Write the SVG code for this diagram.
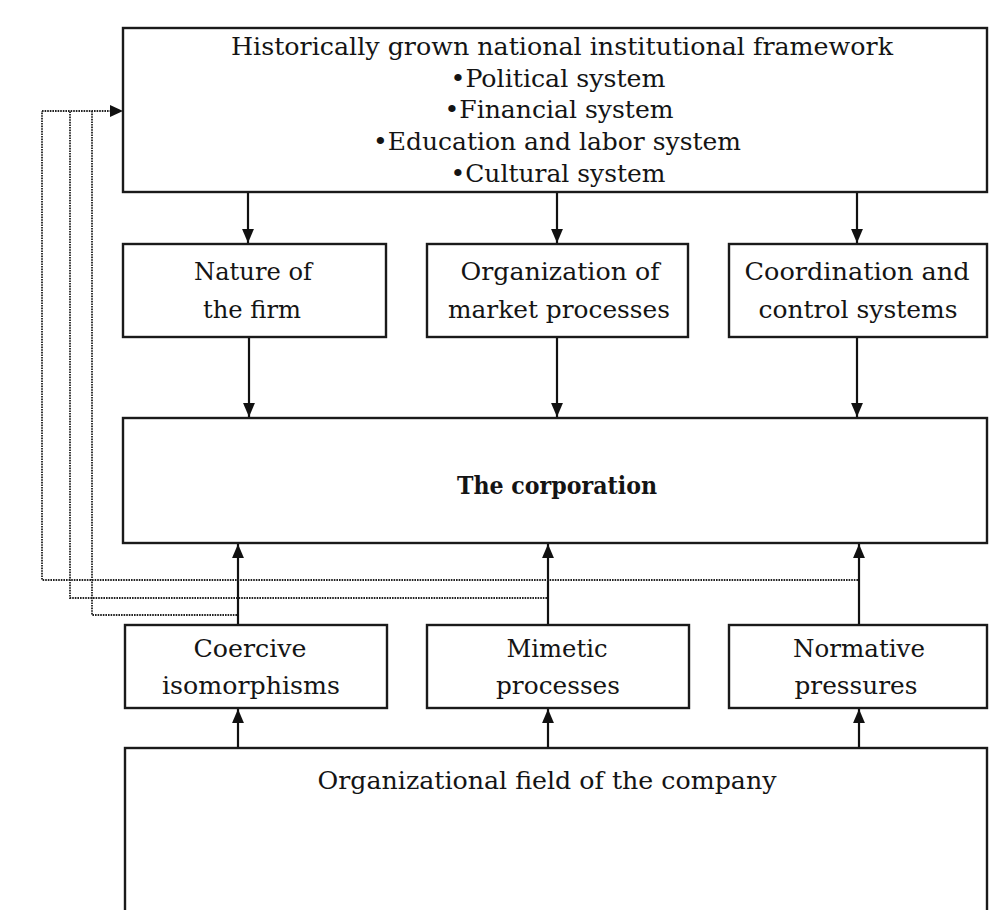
<svg xmlns="http://www.w3.org/2000/svg" width="989" height="910" viewBox="0 0 989 910">
<style>
.box{fill:#fff;stroke:#1a1a1a;stroke-width:2.4}
.t{font-family:"DejaVu Serif","Liberation Serif",serif;font-size:24px;fill:#141414;text-anchor:middle}
.b{font-weight:bold}
.arr{stroke:#111;stroke-width:2.2;fill:none;marker-end:url(#ah)}
.dot{stroke:#222;stroke-width:1.8;fill:none;stroke-dasharray:1.6 1}
</style>
<defs>
<marker id="ah" markerUnits="userSpaceOnUse" markerWidth="14" markerHeight="14" viewBox="0 0 13 11" refX="13" refY="5.5" orient="auto">
<path d="M0,0 L13,5.5 L0,11 z" fill="#111"/>
</marker>
</defs>
<rect width="989" height="910" fill="#fff"/>

<g id="framework">
<rect class="box" x="123" y="28" width="864" height="164"/>
<text class="t" x="562" y="55" textLength="662" lengthAdjust="spacingAndGlyphs">Historically grown national institutional framework</text>
<text class="t" x="558" y="87" textLength="215" lengthAdjust="spacingAndGlyphs">•Political system</text>
<text class="t" x="559" y="118" textLength="229" lengthAdjust="spacingAndGlyphs">•Financial system</text>
<text class="t" x="557" y="150" textLength="368" lengthAdjust="spacingAndGlyphs">•Education and labor system</text>
<text class="t" x="558" y="182" textLength="215" lengthAdjust="spacingAndGlyphs">•Cultural system</text>
</g>

<g id="nature">
<rect class="box" x="123" y="244" width="263" height="93"/>
<text class="t" x="253" y="280" textLength="118" lengthAdjust="spacingAndGlyphs">Nature of</text>
<text class="t" x="252" y="318" textLength="98" lengthAdjust="spacingAndGlyphs">the firm</text>
</g>
<g id="organization">
<rect class="box" x="427" y="244" width="261" height="93"/>
<text class="t" x="560" y="280" textLength="199" lengthAdjust="spacingAndGlyphs">Organization of</text>
<text class="t" x="559" y="318" textLength="222" lengthAdjust="spacingAndGlyphs">market processes</text>
</g>
<g id="coordination">
<rect class="box" x="729" y="244" width="258" height="93"/>
<text class="t" x="857" y="280" textLength="225" lengthAdjust="spacingAndGlyphs">Coordination and</text>
<text class="t" x="858" y="318" textLength="199" lengthAdjust="spacingAndGlyphs">control systems</text>
</g>

<g id="corporation">
<rect class="box" x="123" y="418" width="864" height="125"/>
<text class="t b" x="557" y="494" textLength="200" lengthAdjust="spacingAndGlyphs">The corporation</text>
</g>

<g id="coercive">
<rect class="box" x="125" y="625" width="262" height="83"/>
<text class="t" x="250" y="657" textLength="113" lengthAdjust="spacingAndGlyphs">Coercive</text>
<text class="t" x="251" y="694" textLength="178" lengthAdjust="spacingAndGlyphs">isomorphisms</text>
</g>
<g id="mimetic">
<rect class="box" x="427" y="625" width="262" height="83"/>
<text class="t" x="557" y="657" textLength="101" lengthAdjust="spacingAndGlyphs">Mimetic</text>
<text class="t" x="558" y="694" textLength="124" lengthAdjust="spacingAndGlyphs">processes</text>
</g>
<g id="normative">
<rect class="box" x="729" y="625" width="258" height="83"/>
<text class="t" x="859" y="657" textLength="132" lengthAdjust="spacingAndGlyphs">Normative</text>
<text class="t" x="856" y="694" textLength="123" lengthAdjust="spacingAndGlyphs">pressures</text>
</g>

<g id="field">
<rect class="box" x="125" y="748" width="862" height="180"/>
<text class="t" x="547" y="789" textLength="459" lengthAdjust="spacingAndGlyphs">Organizational field of the company</text>
</g>

<g id="connectors">
<line class="arr" x1="248" y1="193" x2="248" y2="243"/>
<line class="arr" x1="557" y1="193" x2="557" y2="243"/>
<line class="arr" x1="857" y1="193" x2="857" y2="243"/>
<line class="arr" x1="249" y1="338" x2="249" y2="417"/>
<line class="arr" x1="557" y1="338" x2="557" y2="417"/>
<line class="arr" x1="857" y1="338" x2="857" y2="417"/>
<line class="arr" x1="238" y1="624" x2="238" y2="544"/>
<line class="arr" x1="548" y1="624" x2="548" y2="544"/>
<line class="arr" x1="859" y1="624" x2="859" y2="544"/>
<line class="arr" x1="238" y1="747" x2="238" y2="709"/>
<line class="arr" x1="548" y1="747" x2="548" y2="709"/>
<line class="arr" x1="859" y1="747" x2="859" y2="709"/>
<polyline class="dot" points="858,580 42,580 42,111"/>
<polyline class="dot" points="547,598 70,598 70,111"/>
<polyline class="dot" points="237,615 92,615 92,111"/>
<line class="dot" x1="42" y1="111" x2="112" y2="111"/>
<path d="M110,105 L123,111 L110,117 z" fill="#111"/>
</g>
</svg>
